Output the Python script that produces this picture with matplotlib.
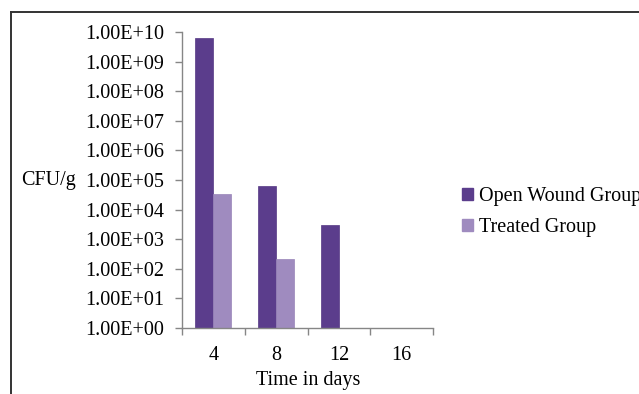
import numpy as np
import matplotlib
matplotlib.use("Agg")
import matplotlib.pyplot as plt
from matplotlib.lines import Line2D
from matplotlib.patches import Patch

days = ["4", "8", "12", "16"]
open_wound = [6.5e9, 6.4e4, 3.0e3, 0]
treated = [3.3e4, 2.1e2, 0, 0]
series_names = ["Open Wound Group", "Treated Group"]
ytick_vals = [10.0 ** k for k in range(0, 11)]

plt.rcParams['font.family'] = ['Liberation Serif', 'DejaVu Serif']

W, H = 639, 394
fig = plt.figure(figsize=(W / 100, H / 100), dpi=100)
ax = fig.add_axes([182 / W, 1 - 328 / H, (433 - 182) / W, (328 - 32) / H])

dark = "#5b3d8c"
light = "#9f8bbf"
fs = 14.5
bw = 0.286
x = np.arange(len(days))
for i in range(len(days)):
    if open_wound[i] > 0:
        ax.bar(x[i] - bw / 2, open_wound[i] - 1, bottom=1, width=bw, color=dark,
               edgecolor="#553883", linewidth=0.5)
    if treated[i] > 0:
        ax.bar(x[i] + bw / 2, treated[i] - 1, bottom=1, width=bw, color=light,
               edgecolor="#9884b8", linewidth=0.5)

ax.set_yscale('log')
ax.set_ylim(1, 1e10)
ax.set_xlim(-0.5, len(days) - 0.5)
ax.set_yticks(ytick_vals)
ax.set_yticklabels([f"{v:.2E}" for v in ytick_vals])
ax.yaxis.set_minor_locator(matplotlib.ticker.NullLocator())
ax.set_xticks(x)
ax.set_xticklabels(days)
ax.set_xticks(np.arange(-0.5, len(days)), minor=True)
ax.tick_params(axis='x', which='major', length=0, pad=13, labelsize=fs)
ax.tick_params(axis='x', which='minor', length=5, color="#868686", width=1)
ax.tick_params(axis='y', which='major', length=5, color="#868686", width=1, labelsize=fs, pad=8)

for s in ["top", "right"]:
    ax.spines[s].set_visible(False)
for s in ["left", "bottom"]:
    ax.spines[s].set_color("#868686")
    ax.spines[s].set_linewidth(1)

fig.text(48 / W, 1 - 181 / H, "CFU/g", fontsize=fs, ha='center', va='center')
fig.text(308 / W, 1 - 380 / H, "Time in days", fontsize=fs, ha='center', va='center')

handles = [Patch(facecolor=dark, edgecolor=dark), Patch(facecolor=light, edgecolor=light)]
fig.legend(handles, series_names, loc='upper left', bbox_to_anchor=(462 / W, 1 - 187 / H),
           frameon=False, fontsize=fs, handlelength=0.55, handleheight=0.55,
           handletextpad=0.3, labelspacing=0.6, borderpad=0, borderaxespad=0)

fig.add_artist(Line2D([10.5 / W, 10.5 / W], [0, 1 - 12 / H], color="#333333", lw=1.4,
                      transform=fig.transFigure))
fig.add_artist(Line2D([10.5 / W, 1], [1 - 12 / H, 1 - 12 / H], color="#333333", lw=1.4,
                      transform=fig.transFigure))

fig.savefig("out.png", dpi=100)
